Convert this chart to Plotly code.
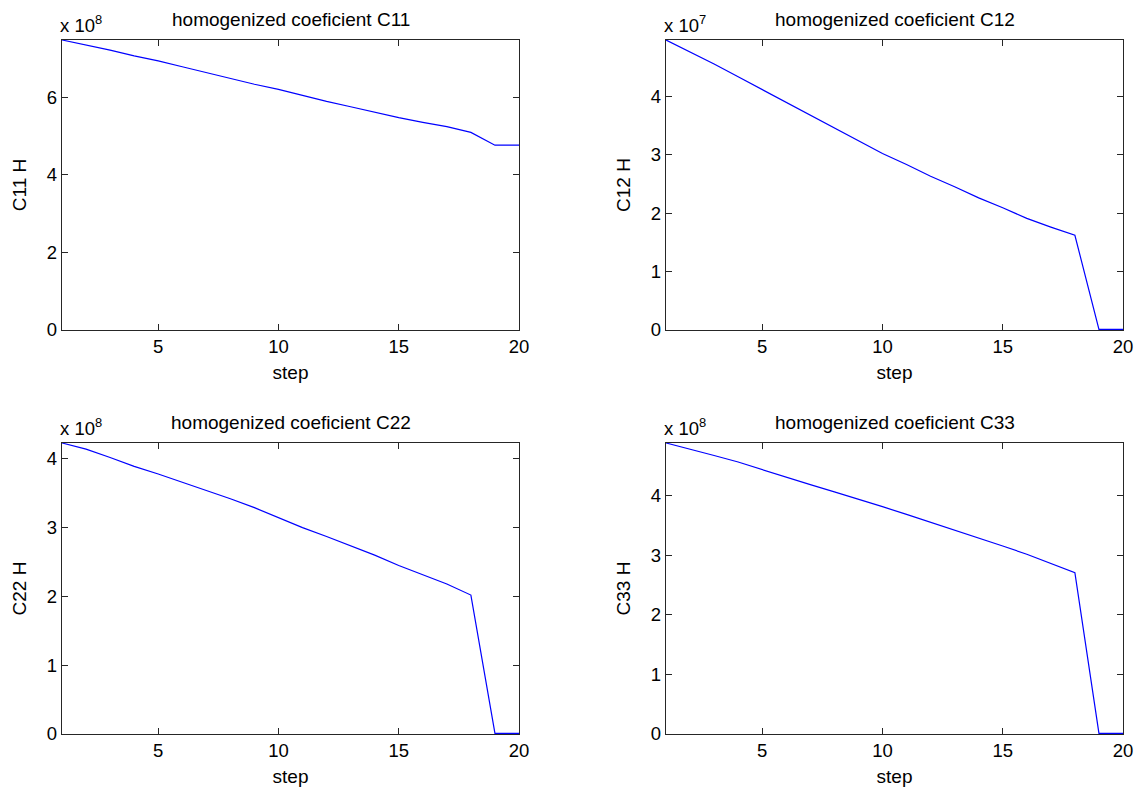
import plotly.graph_objects as go

# homogenized coefficients per loading step, stored as mantissas with a power-of-ten exponent
steps = list(range(1, 21))

c11 = [7.47, 7.34, 7.21, 7.06, 6.93, 6.78, 6.63, 6.48, 6.33, 6.20,
       6.04, 5.89, 5.75, 5.61, 5.47, 5.35, 5.24, 5.09, 4.76, 4.76]
c12 = [4.96, 4.76, 4.55, 4.33, 4.11, 3.89, 3.67, 3.45, 3.23, 3.02,
       2.83, 2.63, 2.45, 2.26, 2.09, 1.91, 1.76, 1.62, 0.01, 0.01]
c22 = [4.23, 4.14, 4.02, 3.89, 3.78, 3.66, 3.55, 3.42, 3.29, 3.14,
       3.00, 2.87, 2.74, 2.60, 2.45, 2.32, 2.18, 2.02, 0.01, 0.01]
c33 = [4.89, 4.79, 4.68, 4.57, 4.44, 4.31, 4.19, 4.07, 3.95, 3.82,
       3.69, 3.56, 3.43, 3.29, 3.16, 3.02, 2.87, 2.71, 0.01, 0.01]

names = ["C11", "C12", "C22", "C33"]
series = [c11, c12, c22, c33]
exponents = [8, 7, 8, 8]
ytick_steps = [2, 1, 1, 1]

W, H = 1139, 793
FONT = "Liberation Sans, Arial, sans-serif"
FS = 19      # titles and axis labels
FS_TICK = 18.5

# plot boxes in pixels: (left, top, right, bottom)
boxes = [(62, 40, 519, 330), (666, 40, 1123, 330),
         (62, 443, 519, 734), (666, 443, 1123, 734)]

fig = go.Figure()
layout = dict(
    width=W, height=H,
    margin=dict(l=0, r=0, t=0, b=0, autoexpand=False),
    paper_bgcolor="white", plot_bgcolor="white",
    showlegend=False,
    font=dict(family=FONT, size=FS, color="black"),
    annotations=[],
)

for i, (name, vals, ex, dt, box) in enumerate(zip(names, series, exponents, ytick_steps, boxes)):
    k = "" if i == 0 else str(i + 1)
    l, t, r, b = box
    xd = [l / W, r / W]
    yd = [1 - b / H, 1 - t / H]
    fig.add_trace(go.Scatter(x=steps, y=vals, mode="lines",
                             line=dict(color="#0000ff", width=1.2),
                             xaxis="x" + k, yaxis="y" + k))
    axis_common = dict(showline=True, linecolor="#262626", linewidth=1.3,
                       mirror="ticks", ticks="inside", ticklen=6,
                       tickcolor="#262626", tickwidth=1.3,
                       showgrid=False, zeroline=False, automargin=False,
                       tickfont=dict(family=FONT, size=FS_TICK, color="black"))
    layout["xaxis" + k] = dict(domain=xd, anchor="y" + k, range=[1, 20],
                               tickvals=[5, 10, 15, 20],
                               title=dict(text="step", standoff=9,
                                          font=dict(family=FONT, size=FS)),
                               **axis_common)
    layout["yaxis" + k] = dict(domain=yd, anchor="x" + k, range=[0, max(vals)],
                               tick0=0, dtick=dt,
                               title=dict(text=name + " H", standoff=15,
                                          font=dict(family=FONT, size=FS)),
                               **axis_common)
    layout["annotations"].append(dict(
        text="homogenized coeficient " + name, xref="paper", yref="paper",
        x=(xd[0] + xd[1]) / 2, y=yd[1], xanchor="center", yanchor="bottom",
        yshift=8, showarrow=False, font=dict(family=FONT, size=FS)))
    layout["annotations"].append(dict(
        text="x 10<sup>%d</sup>" % ex, xref="paper", yref="paper",
        x=xd[0], y=yd[1], xanchor="left", yanchor="bottom", xshift=-4,
        yshift=2, showarrow=False, font=dict(family=FONT, size=FS_TICK)))

fig.update_layout(**layout)
fig.write_html("out.html")
